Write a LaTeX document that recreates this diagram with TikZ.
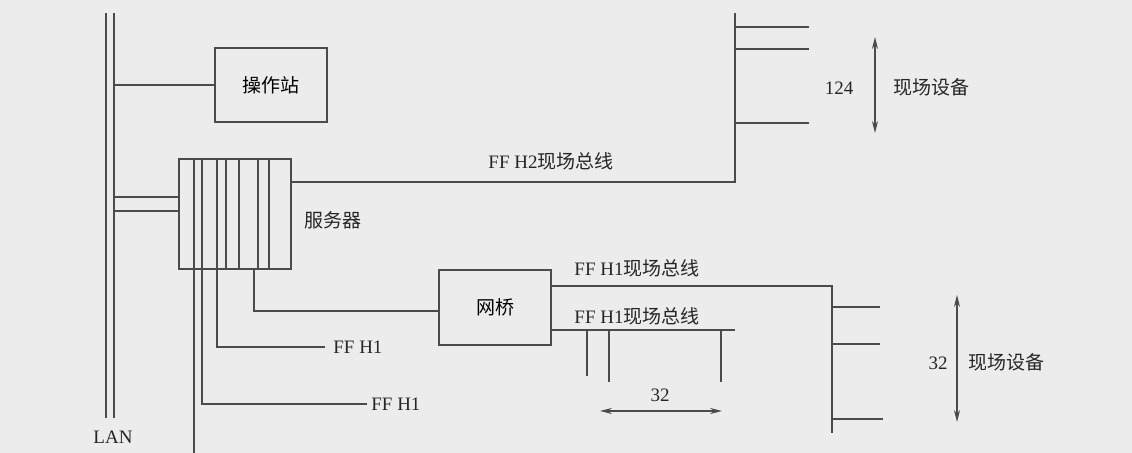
\documentclass[tikz,border=0pt]{standalone}
\usepackage{fontspec}
\setmainfont{Liberation Serif}
\newfontfamily\cjk{Noto Sans CJK SC}
\usetikzlibrary{arrows.meta}
\definecolor{bgc}{RGB}{236,236,236}
\definecolor{ink}{RGB}{75,75,75}
\begin{document}
\begin{tikzpicture}[x=0.5pt,y=-0.5pt,
  box/.style={draw=ink,line width=1.1pt,inner sep=0pt,font=\fontsize{9.5pt}{11pt}\selectfont},
  wire/.style={draw=ink,line width=0.55pt},
  lbl/.style={inner sep=0pt,text=black!85,font=\fontsize{9.5pt}{11pt}\selectfont},
  dim/.style={wire,{Stealth[length=6pt,width=3pt]}-{Stealth[length=6pt,width=3pt]}}]
\fill[bgc] (0,0) rectangle (1132,453);
\useasboundingbox (0,0) rectangle (1132,453);

% boxes
\node[box,minimum width=56pt,minimum height=37pt] (op) at (271,85) {\cjk 操作站};
\node[box,minimum width=56pt,minimum height=55pt] (srv) at (235,214) {};
\node[box,minimum width=56pt,minimum height=37.5pt] (br) at (495,307.5) {\cjk 网桥};

% labels
\node[lbl] (lan) at (113,437) {LAN};
\node[lbl] (srvl) at (333,220) {\cjk 服务器};
\node[lbl] (h2) at (551,161) {FF H2{\cjk 现场总线}};
\node[lbl] (n124) at (839,88) {124};
\node[lbl] (dev1) at (931,87) {\cjk 现场设备};
\node[lbl,anchor=west] (ffa) at (333,347) {FF H1};
\node[lbl,anchor=west] (ffb) at (371,404) {FF H1};
\node[lbl] (h1a) at (637,268) {FF H1{\cjk 现场总线}};
\node[lbl] (h1b) at (637,316) {FF H1{\cjk 现场总线}};
\node[lbl] (n32a) at (660,395) {32};
\node[lbl] (n32b) at (938,363) {32};
\node[lbl] (dev2) at (1006,362) {\cjk 现场设备};

% LAN double line
\coordinate (la1) at (106,13); \coordinate (la2) at (106,418);
\coordinate (lb1) at (114,13); \coordinate (lb2) at (114,418);
\draw[wire] (la1) -- (la2);
\draw[wire] (lb1) -- (lb2);
\coordinate (y197) at (0,197); \coordinate (y211) at (0,211);
\draw[wire] (lb1 |- op.west) -- (op.west);
\draw[wire] (lb1 |- y197) -- (srv.west |- y197);
\draw[wire] (lb1 |- y211) -- (srv.west |- y211);

% server inner slots
\foreach \x in {194,202,217,226,239,258,269} \draw[wire] (\x,159) -- (\x,269);

% H2 bus
\coordinate (h2r) at (291,182); \coordinate (h2c) at (735,182); \coordinate (h2t) at (735,13);
\draw[wire] (h2r) -- (h2c) -- (h2t);
\foreach \y in {27,49,123} \draw[wire] (735,\y) -- (809,\y);
\coordinate (a1t) at (875,37); \coordinate (a1b) at (875,133);
\draw[dim] (a1t) -- (a1b);

% server bottom lines
\coordinate (d1) at (194,453);
\draw[wire] (194,269) -- (d1);
\coordinate (e1) at (202,404);
\draw[wire] (202,269) -- (e1) -- ([xshift=-2pt]ffb.west);
\coordinate (f1) at (217,347);
\draw[wire] (217,269) -- (f1) -- ([xshift=-4pt]ffa.west);
\coordinate (g1) at (254,311);
\draw[wire] (254,269) -- (g1) -- (br.west |- g1);

% H1 bus 1
\coordinate (p1) at (551,286); \coordinate (p2) at (832,286); \coordinate (p3) at (832,433);
\draw[wire] (p1) -- (p2) -- (p3);
\foreach \y/\e in {307/880,344/880,419/883} \draw[wire] (832,\y) -- (\e,\y);
\coordinate (a2t) at (957,295); \coordinate (a2b) at (957,422);
\draw[dim] (a2t) -- (a2b);

% H1 bus 2
\coordinate (q1) at (551,330); \coordinate (q2) at (735,330);
\draw[wire] (q1) -- (q2);
\draw[wire] (587,330) -- (587,376);
\draw[wire] (609,330) -- (609,382);
\draw[wire] (721,330) -- (721,382);
\coordinate (a3l) at (600,411); \coordinate (a3r) at (722,411);
\draw[dim] (a3l) -- (a3r);
\end{tikzpicture}
\end{document}
